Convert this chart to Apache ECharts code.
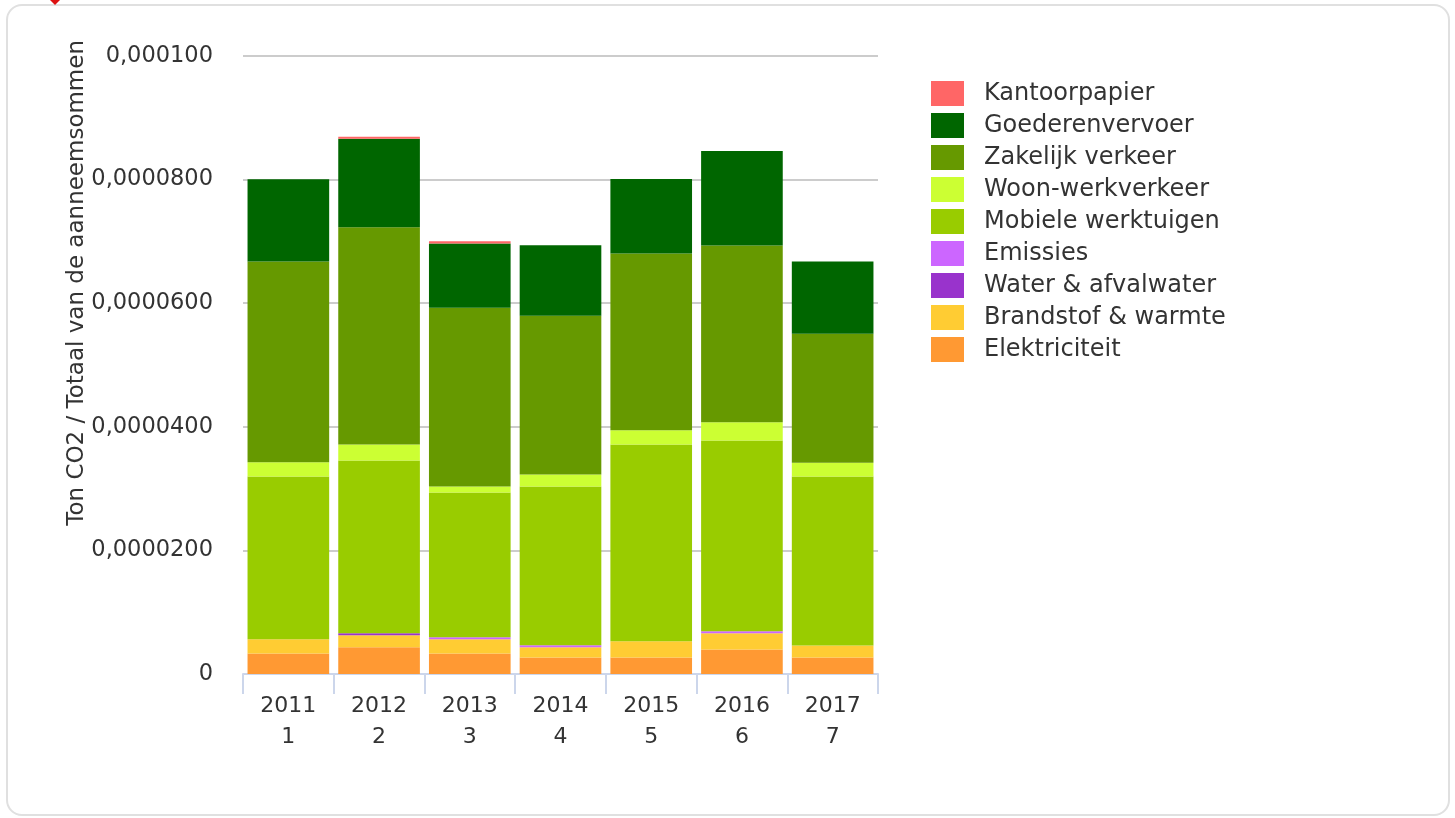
<!DOCTYPE html>
<html>
<head>
<meta charset="utf-8">
<script src="https://cdn.jsdelivr.net/npm/echarts@6/dist/echarts.min.js"></script>
<style>
html,body{margin:0;padding:0;background:#fff;}
#chart{width:1455px;height:818px;}
</style>
</head>
<body>
<div id="chart"></div>
<script>
// Data
const years = ['2011', '2012', '2013', '2014', '2015', '2016', '2017'];
const yearIdx = ['1', '2', '3', '4', '5', '6', '7'];
const yTickLabels = ['0', '0,0000200', '0,0000400', '0,0000600', '0,0000800', '0,000100'];
const yTitle = 'Ton CO2 / Totaal van de aanneemsommen';

const elektriciteit = [3.33e-6, 4.31e-6, 3.33e-6, 2.68e-6, 2.68e-6, 3.98e-6, 2.68e-6];
const brandstof     = [2.28e-6, 1.95e-6, 2.28e-6, 1.63e-6, 2.60e-6, 2.60e-6, 1.95e-6];
const water         = [0, 3.3e-7, 0, 0, 0, 0, 0];
const emissies      = [0, 0, 3.3e-7, 3.3e-7, 0, 3.3e-7, 0];
const mobiele       = [2.635e-5, 2.796e-5, 2.342e-5, 2.570e-5, 3.187e-5, 3.089e-5, 2.732e-5];
const woonwerk      = [2.30e-6, 2.60e-6, 9.8e-7, 1.95e-6, 2.28e-6, 2.93e-6, 2.25e-6];
const zakelijk      = [3.250e-5, 3.513e-5, 2.894e-5, 2.569e-5, 2.862e-5, 2.862e-5, 2.084e-5];
const goederen      = [1.330e-5, 1.431e-5, 1.040e-5, 1.138e-5, 1.203e-5, 1.528e-5, 1.171e-5];
const kantoor       = [0, 3.3e-7, 3.3e-7, 0, 0, 0, 0];

const seriesDefs = [
  ['Elektriciteit', elektriciteit, '#ff9933'],
  ['Brandstof & warmte', brandstof, '#ffcc33'],
  ['Water & afvalwater', water, '#9933cc'],
  ['Emissies', emissies, '#cc66ff'],
  ['Mobiele werktuigen', mobiele, '#99cc00'],
  ['Woon-werkverkeer', woonwerk, '#ccff33'],
  ['Zakelijk verkeer', zakelijk, '#669900'],
  ['Goederenvervoer', goederen, '#006600'],
  ['Kantoorpapier', kantoor, '#ff6666']
];

const chart = echarts.init(document.getElementById('chart'), null, {renderer: 'canvas'});
const font = 'DejaVu Sans';

const option = {
  animation: false,
  backgroundColor: '#ffffff',
  graphic: [
    {type: 'rect', z: -10, shape: {x: 7, y: 5, width: 1442, height: 810, r: 15},
     style: {fill: '#ffffff', stroke: '#e0e0e0', lineWidth: 2}},
    {type: 'polygon', z: 10, shape: {points: [[50, 0], [60, 0], [55, 5]]}, style: {fill: '#dd1111'}},
    {type: 'text', left: 66, top: 40, rotation: Math.PI / 2,
     style: {text: yTitle, font: '23px "DejaVu Sans"', fill: '#333333'}}
  ],
  grid: {left: 243, top: 56, width: 635, bottom: 144, containLabel: false},
  legend: {
    orient: 'vertical', left: 931, top: 81, padding: 0,
    itemWidth: 33, itemHeight: 25, itemGap: 7, icon: 'rect',
    data: seriesDefs.map(d => d[0]).reverse(),
    textStyle: {fontFamily: font, fontSize: 24, color: '#333333', padding: [5, 0, 0, 15]}
  },
  xAxis: {
    type: 'category',
    data: years.map((y, i) => y + '\n' + yearIdx[i]),
    axisLine: {lineStyle: {color: '#ccd6eb', width: 2}},
    axisTick: {show: true, length: 20, lineStyle: {color: '#ccd6eb', width: 2}},
    axisLabel: {margin: 17, fontFamily: font, fontSize: 22, color: '#333333', lineHeight: 31}
  },
  yAxis: {
    type: 'value', min: 0, max: 0.0001, interval: 0.00002,
    axisLine: {show: false}, axisTick: {show: false},
    splitLine: {lineStyle: {color: '#cccccc', width: 2}},
    axisLabel: {
      margin: 30, fontFamily: font, fontSize: 22.5, color: '#333333',
      formatter: function (v) { return yTickLabels[Math.round(v / 0.00002)]; }
    }
  },
  series: seriesDefs.map(d => ({
    name: d[0], type: 'bar', stack: 'total', data: d[1],
    barCategoryGap: '10%',
    itemStyle: {color: d[2]},
    emphasis: {disabled: true}
  }))
};
chart.setOption(option);
</script>
</body>
</html>
